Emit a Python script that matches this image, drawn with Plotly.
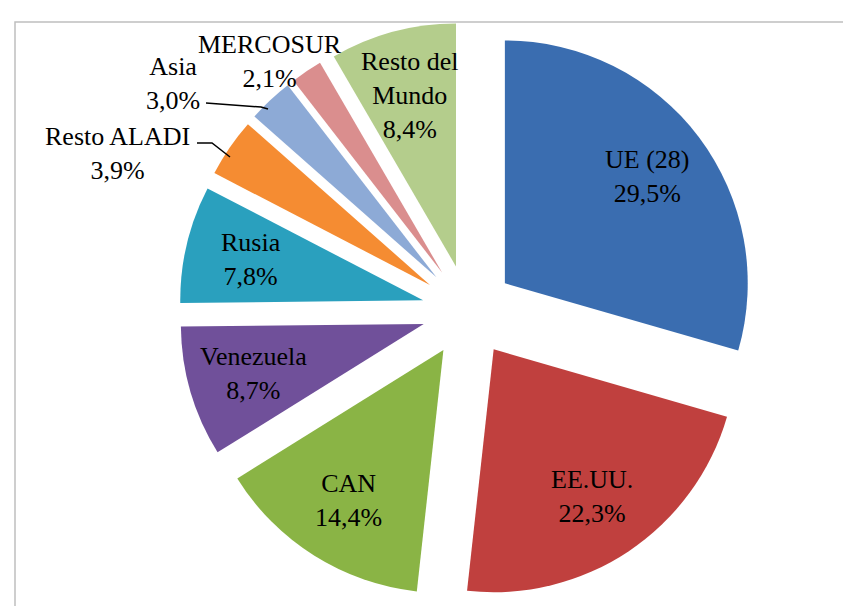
import math
import plotly.graph_objects as go

categories = ["UE (28)", "EE.UU.", "CAN", "Venezuela", "Rusia", "Resto ALADI", "Asia", "MERCOSUR", "Resto del Mundo"]
values = [29.5, 22.3, 14.4, 8.7, 7.8, 3.9, 3.0, 2.1, 8.4]
display_names = ["UE (28)", "EE.UU.", "CAN", "Venezuela", "Rusia", "Resto ALADI", "Asia", "MERCOSUR", "Resto del<br>Mundo"]
colors = ["#3A6DB0", "#C0403E", "#8AB445", "#70509A", "#2AA0BE", "#F58C32", "#8DAAD6", "#DA8E8E", "#B4CD8C"]

W, H = 851, 606
CX, CY = 460, 303
PULL = 0.19
SIDE = 578
L = CX - SIDE // 2
T = CY - SIDE // 2
R = W - L - SIDE
B = H - T - SIDE
RAD = SIDE / (2 + 2 * PULL)
LABEL_FRAC = 0.73
FONT = dict(family="Liberation Serif", size=26, color="black")

# outside label anchor points (pixels) for the small slices
outside_pos = {"Resto ALADI": (109, 145), "Asia": (165, 76), "MERCOSUR": (262, 53)}


def px(x):
    return (x - L) / SIDE


def py(y):
    return 1 - (y - T) / SIDE


def pct(v):
    return f"{v:.1f}".replace(".", ",") + "%"


fig = go.Figure(go.Pie(
    labels=categories,
    values=values,
    textinfo="none",
    sort=False,
    direction="clockwise",
    rotation=0,
    pull=[PULL] * len(values),
    marker=dict(colors=colors, line=dict(width=0)),
    showlegend=False,
    hoverinfo="label+percent",
))

annotations = []
total = sum(values)
cum = 0.0
for c, name, v in zip(categories, display_names, values):
    mid = (cum + v / 2) / total * 2 * math.pi
    cum += v
    text = f"{name}<br>{pct(v)}"
    if c in outside_pos:
        x, y = outside_pos[c]
    else:
        d = PULL * RAD + LABEL_FRAC * RAD
        x = CX + d * math.sin(mid)
        y = CY - d * math.cos(mid)
    annotations.append(dict(
        x=px(x), y=py(y), xref="paper", yref="paper",
        text=text, showarrow=False, font=FONT, align="center",
        xanchor="center", yanchor="middle",
    ))

shapes = [
    dict(type="rect", xref="paper", yref="paper",
         x0=px(7), y0=py(14), x1=px(870), y1=py(630),
         line=dict(color="#BFBFBF", width=1.5)),
    dict(type="path", xref="paper", yref="paper",
         path=f"M {px(189)} {py(135)} L {px(204)} {py(135)} L {px(222)} {py(149)}",
         line=dict(color="black", width=1.5)),
    dict(type="path", xref="paper", yref="paper",
         path=f"M {px(198)} {py(95)} L {px(253)} {py(99)} L {px(260)} {py(101)}",
         line=dict(color="black", width=1.5)),
]

fig.update_layout(
    width=W, height=H,
    margin=dict(l=L, r=R, t=T, b=B),
    paper_bgcolor="white",
    plot_bgcolor="white",
    annotations=annotations,
    shapes=shapes,
)

fig.write_html("out.html")
